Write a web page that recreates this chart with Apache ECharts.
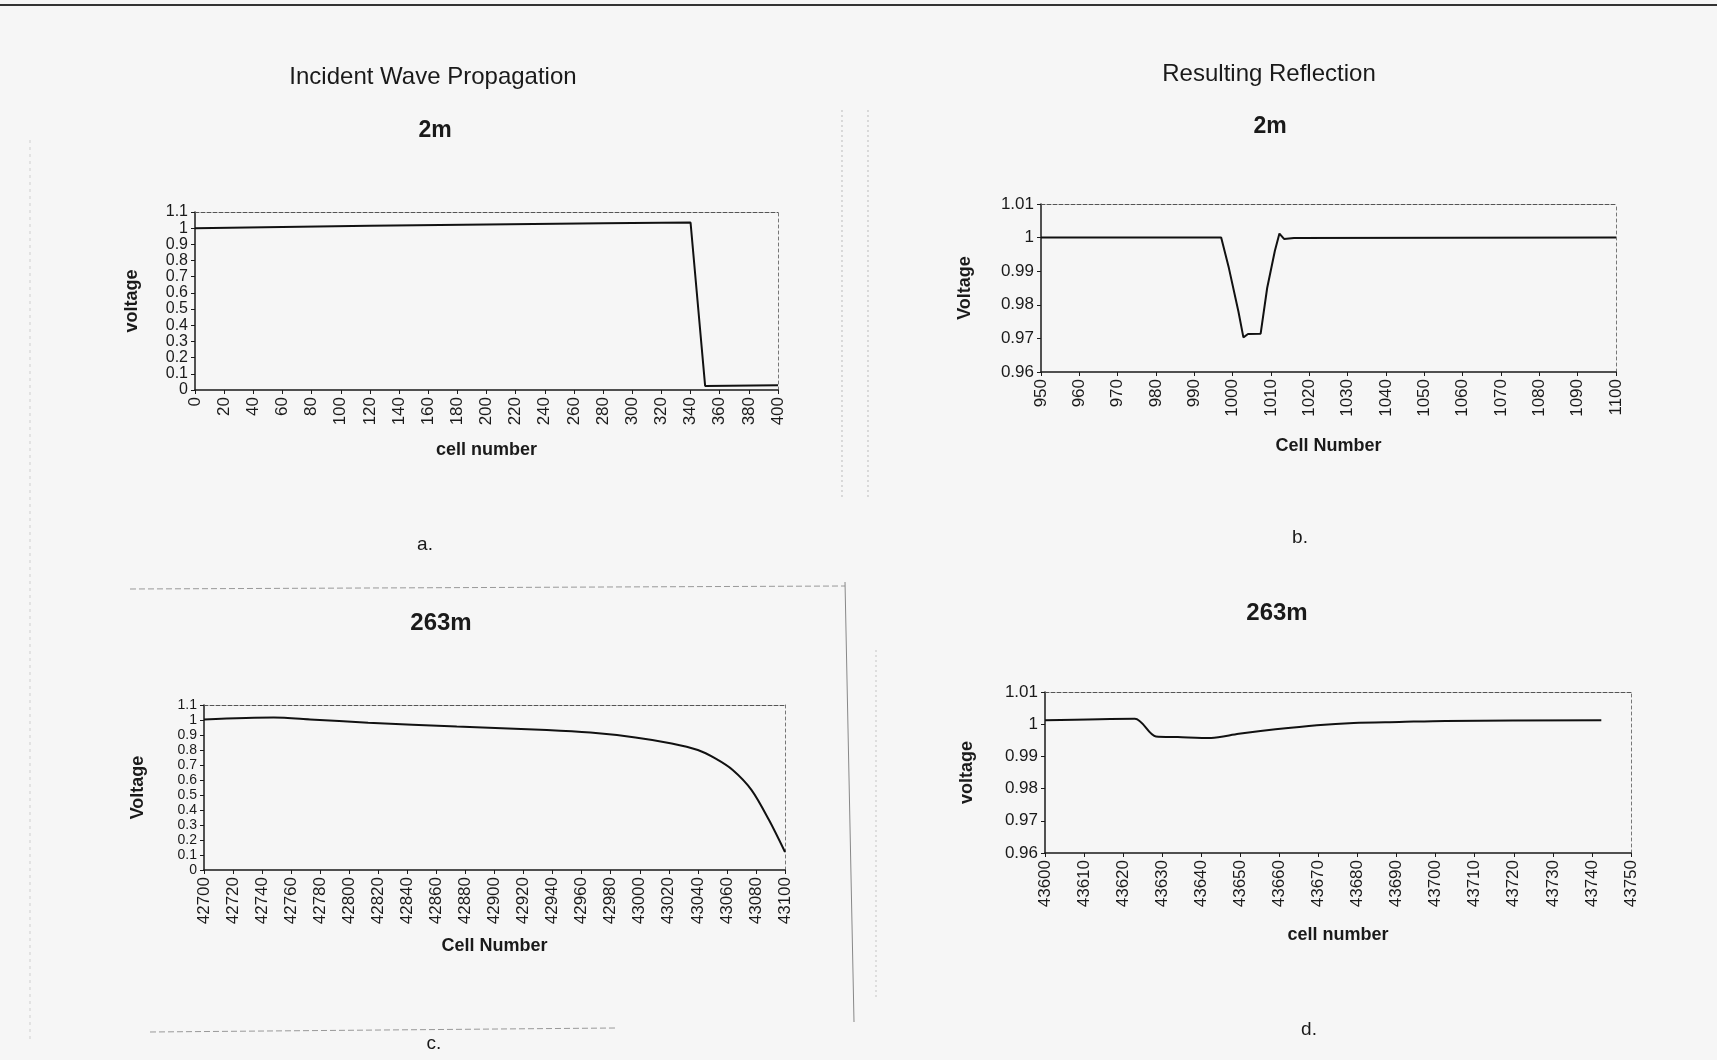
<!DOCTYPE html>
<html>
<head>
<meta charset="utf-8">
<title>Incident Wave Propagation / Resulting Reflection</title>
<script src="https://cdn.jsdelivr.net/npm/echarts@6/dist/echarts.min.js"></script>
<style>
  html, body { margin: 0; padding: 0; background: #f6f6f6; }
  #main { width: 1717px; height: 1060px; }
</style>
</head>
<body>
<div id="main"></div>
<script>
// a. incident wave, 2m
const aCells = [0, 60, 120, 200, 280, 340, 350, 400];
const aVolts = [1.0, 1.008, 1.015, 1.023, 1.03, 1.035, 0.025, 0.03];
// b. reflection, 2m
const bCells = [950, 997, 999, 1001.5, 1002.8, 1004, 1007.3, 1009, 1011, 1012.2, 1013.4, 1016, 1100];
const bVolts = [1.0, 1.0, 0.991, 0.978, 0.9703, 0.9713, 0.9714, 0.985, 0.996, 1.0012, 0.9996, 0.9999, 1.0];
// c. incident wave, 263m
const cCells = [42700, 42748, 42773, 42813, 42874, 42936, 42966, 42997, 43022, 43040, 43052, 43064, 43077, 43089, 43100];
const cVolts = [1.004, 1.016, 1.004, 0.982, 0.956, 0.933, 0.916, 0.884, 0.844, 0.80, 0.744, 0.667, 0.533, 0.333, 0.12];
// d. reflection, 263m
const dCells = [43600, 43623, 43628.4, 43634, 43642.5, 43649.6, 43659, 43669.6, 43679, 43690.7, 43702.5, 43742.4];
const dVolts = [1.0012, 1.0017, 0.9962, 0.996, 0.9957, 0.997, 0.9984, 0.9997, 1.0004, 1.0007, 1.001, 1.0012];

const FONT = '"Liberation Sans", Arial, sans-serif';
const INK = '#1a1a1a';

function pairs(xs, ys) { return xs.map((x, i) => [x, ys[i]]); }
function fmt(v) { return String(+v.toFixed(3)); }

// panel layout: grid box, x range, y range, axis names
const panels = [
  { box: [195, 212, 583, 178], x: [0, 400, 20], y: [0, 1.1, 0.1], yFont: 16, xName: 'cell number', yName: 'voltage', xGap: 51, yGap: 54, data: pairs(aCells, aVolts), smooth: false },
  { box: [1041, 204, 575, 168], x: [950, 1100, 10], y: [0.96, 1.01, 0.01], yFont: 17, xName: 'Cell Number', yName: 'Voltage', xGap: 65, yGap: 67, data: pairs(bCells, bVolts), smooth: false },
  { box: [204, 705, 581, 165], x: [42700, 43100, 20], y: [0, 1.1, 0.1], yFont: 14, xName: 'Cell Number', yName: 'Voltage', xGap: 67, yGap: 57, data: pairs(cCells, cVolts), smooth: 0.3 },
  { box: [1045, 692, 586, 161], x: [43600, 43750, 10], y: [0.96, 1.01, 0.01], yFont: 17, xName: 'cell number', yName: 'voltage', xGap: 73, yGap: 69, data: pairs(dCells, dVolts), smooth: 0.3 }
];

const grid = [], xAxis = [], yAxis = [], series = [];
panels.forEach((p, i) => {
  grid.push({ left: p.box[0], top: p.box[1], width: p.box[2], height: p.box[3], containLabel: false });
  const nameStyle = { color: INK, fontFamily: FONT, fontSize: 18, fontWeight: 'bold' };
  xAxis.push({
    type: 'value', gridIndex: i, min: p.x[0], max: p.x[1], interval: p.x[2],
    name: p.xName, nameLocation: 'middle', nameGap: p.xGap, nameTextStyle: nameStyle,
    axisLine: { onZero: false, lineStyle: { color: INK, width: 1.5 } },
    axisTick: { length: 4, lineStyle: { color: INK } },
    axisLabel: { rotate: 90, margin: 7, color: INK, fontFamily: FONT, fontSize: 17, formatter: fmt,
      showMinLabel: true, showMaxLabel: true, hideOverlap: false },
    splitLine: { show: false }
  });
  yAxis.push({
    type: 'value', gridIndex: i, min: p.y[0], max: p.y[1], interval: p.y[2],
    name: p.yName, nameLocation: 'middle', nameGap: p.yGap, nameTextStyle: nameStyle,
    axisLine: { show: true, onZero: false, lineStyle: { color: INK, width: 1.5 } },
    axisTick: { show: true, length: 4, lineStyle: { color: INK } },
    axisLabel: { margin: 7, color: INK, fontFamily: FONT, fontSize: p.yFont, lineHeight: p.yFont, formatter: fmt,
      showMinLabel: true, showMaxLabel: true, hideOverlap: false },
    splitLine: { show: false }
  });
  // dashed top and right frame
  xAxis.push({
    type: 'value', gridIndex: i, position: 'top', min: p.x[0], max: p.x[1],
    axisLine: { onZero: false, lineStyle: { color: '#555', width: 1, type: [4, 2] } },
    axisTick: { show: false }, axisLabel: { show: false }, splitLine: { show: false }
  });
  yAxis.push({
    type: 'value', gridIndex: i, position: 'right', min: p.y[0], max: p.y[1],
    axisLine: { show: true, onZero: false, lineStyle: { color: '#777', width: 1, type: [3, 3] } },
    axisTick: { show: false }, axisLabel: { show: false }, splitLine: { show: false }
  });
  series.push({
    type: 'line', xAxisIndex: i * 2, yAxisIndex: i * 2, data: p.data,
    showSymbol: false, smooth: p.smooth, animation: false,
    lineStyle: { color: '#111', width: 2 }
  });
});

function label(x, y, text, size, weight) {
  return {
    type: 'text', x: x, y: y, silent: true,
    style: { text: text, fill: INK, font: (weight || 'normal') + ' ' + size + 'px ' + FONT,
      textAlign: 'center', textVerticalAlign: 'middle' }
  };
}
function rule(x1, y1, x2, y2, color, width, dash) {
  return {
    type: 'line', silent: true, shape: { x1: x1, y1: y1, x2: x2, y2: y2 },
    style: { stroke: color, lineWidth: width, lineDash: dash || null }
  };
}

const graphic = [
  rule(0, 5, 1717, 5, '#333', 2),
  rule(842, 110, 842, 500, '#bbb', 1, [2, 3]),
  rule(868, 110, 868, 500, '#bbb', 1, [2, 3]),
  rule(130, 589, 845, 586, '#999', 1, [6, 3]),
  rule(845, 582, 854, 1022, '#888', 1),
  rule(150, 1032, 615, 1028, '#999', 1, [6, 3]),
  rule(876, 650, 876, 1000, '#c4c4c4', 1, [2, 3]),
  rule(30, 140, 30, 1040, '#cfcfcf', 1, [3, 4]),
  label(433, 77, 'Incident Wave Propagation', 24),
  label(1269, 74, 'Resulting Reflection', 24),
  label(435, 131, '2m', 23, 'bold'),
  label(1270, 127, '2m', 23, 'bold'),
  label(441, 623, '263m', 24, 'bold'),
  label(1277, 613, '263m', 24, 'bold'),
  label(425, 545, 'a.', 19),
  label(1300, 538, 'b.', 19),
  label(434, 1044, 'c.', 19),
  label(1309, 1030, 'd.', 19)
];

const chart = echarts.init(document.getElementById('main'));
chart.setOption({
  backgroundColor: '#f6f6f6',
  animation: false,
  grid: grid,
  xAxis: xAxis,
  yAxis: yAxis,
  series: series,
  graphic: graphic
});
</script>
</body>
</html>
